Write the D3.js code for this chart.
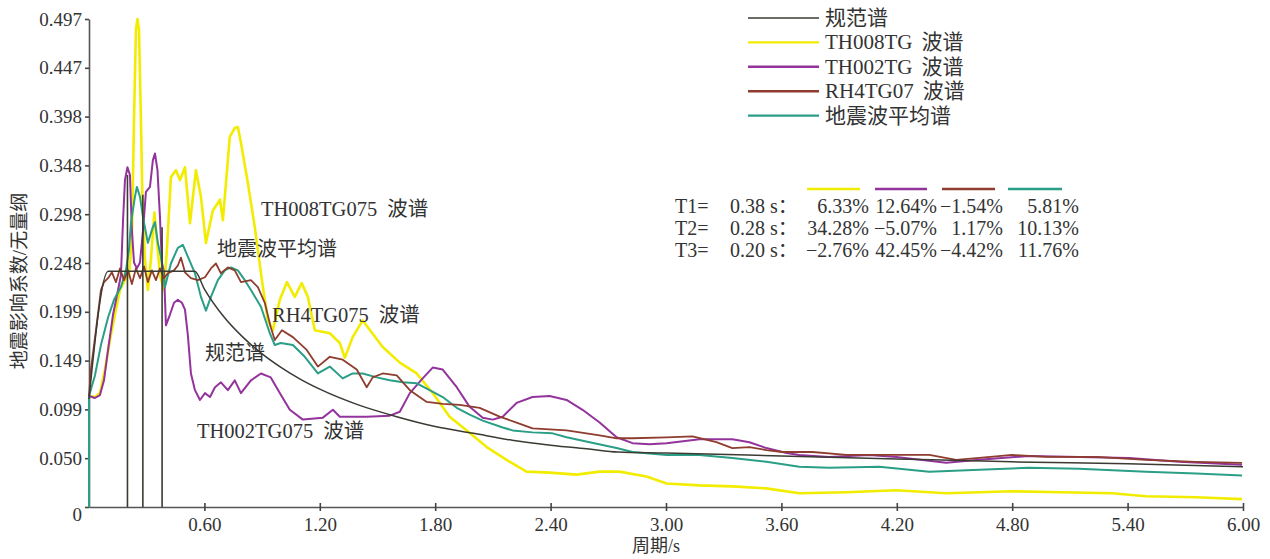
<!DOCTYPE html>
<html>
<head>
<meta charset="utf-8">
<script src="https://cdn.jsdelivr.net/npm/d3@7"></script>
<style>
  body { margin: 0; background: #fff; }
  svg { display: block; }
  text { font-family: "Liberation Serif", "Noto Sans CJK SC", serif; fill: #333; }
</style>
</head>
<body>
<svg id="chart" width="1270" height="559"></svg>
<script>
// ---- axis ticks ----
const periodTicks = [0.6, 1.2, 1.8, 2.4, 3.0, 3.6, 4.2, 4.8, 5.4, 6.0];
const coefTicks = [0, 0.0497, 0.0994, 0.1491, 0.1988, 0.2485, 0.2982, 0.3479, 0.3976, 0.4473, 0.497];
const coefTickLabels = ["0", "0.050", "0.099", "0.149", "0.199", "0.248", "0.298", "0.348", "0.398", "0.447", "0.497"];

// ---- spectra: [period (s), seismic influence coefficient] ----
const codeSpectrum = [
  [0, 0.11], [0.1, 0.24], [0.55, 0.24], [0.6, 0.222], [0.7, 0.194], [0.8, 0.173], [0.9, 0.156],
  [1.0, 0.142], [1.1, 0.13], [1.2, 0.12], [1.4, 0.104], [1.6, 0.092], [1.8, 0.082], [2.0, 0.075],
  [2.2, 0.068], [2.4, 0.063], [2.6, 0.059], [2.75, 0.056], [3.0, 0.055], [3.6, 0.052], [4.2, 0.049],
  [4.8, 0.046], [5.4, 0.044], [6.0, 0.041]
];

const th008tg = [
  [0, 0.113], [0.031, 0.112], [0.057, 0.116], [0.083, 0.14], [0.109, 0.17], [0.135, 0.196], [0.161, 0.221],
  [0.187, 0.231], [0.208, 0.236], [0.223, 0.272], [0.234, 0.394], [0.244, 0.486], [0.252, 0.497], [0.26, 0.486],
  [0.27, 0.394], [0.278, 0.313], [0.291, 0.252], [0.306, 0.221], [0.322, 0.252], [0.34, 0.3], [0.353, 0.272],
  [0.369, 0.236], [0.39, 0.221], [0.405, 0.262], [0.426, 0.336], [0.452, 0.343], [0.473, 0.333], [0.499, 0.346],
  [0.525, 0.289], [0.556, 0.343], [0.582, 0.316], [0.608, 0.269], [0.644, 0.302], [0.681, 0.313], [0.696, 0.292],
  [0.732, 0.377], [0.758, 0.386], [0.774, 0.387], [0.79, 0.371], [0.826, 0.33], [0.862, 0.285], [0.899, 0.231],
  [0.93, 0.19], [0.956, 0.18], [0.992, 0.211], [1.029, 0.229], [1.07, 0.214], [1.106, 0.228], [1.138, 0.214],
  [1.174, 0.18], [1.252, 0.177], [1.304, 0.167], [1.33, 0.152], [1.371, 0.173], [1.423, 0.19], [1.527, 0.163],
  [1.616, 0.147], [1.704, 0.136], [1.787, 0.116], [1.875, 0.092], [1.964, 0.078], [2.068, 0.061], [2.171, 0.048],
  [2.275, 0.036], [2.395, 0.035], [2.535, 0.033], [2.655, 0.036], [2.758, 0.036], [2.899, 0.031], [3.003, 0.024],
  [3.174, 0.022], [3.345, 0.021], [3.522, 0.019], [3.693, 0.014], [3.938, 0.015], [4.197, 0.017], [4.457, 0.014],
  [4.8, 0.016], [5.06, 0.015], [5.319, 0.014], [5.496, 0.011], [5.756, 0.01], [5.995, 0.008]
];

const th002tg = [
  [0, 0.113], [0.031, 0.111], [0.057, 0.114], [0.078, 0.129], [0.099, 0.16], [0.125, 0.196], [0.151, 0.221],
  [0.166, 0.236], [0.177, 0.292], [0.187, 0.333], [0.2, 0.346], [0.213, 0.338], [0.223, 0.282], [0.234, 0.249],
  [0.249, 0.243], [0.265, 0.249], [0.281, 0.282], [0.296, 0.321], [0.317, 0.326], [0.332, 0.353], [0.343, 0.36],
  [0.356, 0.343], [0.369, 0.295], [0.379, 0.249], [0.39, 0.239], [0.4, 0.185], [0.421, 0.196], [0.442, 0.208],
  [0.462, 0.211], [0.483, 0.208], [0.499, 0.201], [0.514, 0.175], [0.53, 0.136], [0.551, 0.119], [0.577, 0.109],
  [0.603, 0.116], [0.629, 0.112], [0.655, 0.122], [0.686, 0.127], [0.722, 0.119], [0.758, 0.129], [0.79, 0.116],
  [0.842, 0.129], [0.894, 0.136], [0.945, 0.132], [0.992, 0.116], [1.044, 0.099], [1.112, 0.089], [1.216, 0.091],
  [1.268, 0.099], [1.304, 0.092], [1.444, 0.092], [1.564, 0.093], [1.616, 0.097], [1.668, 0.116], [1.735, 0.131],
  [1.787, 0.142], [1.839, 0.14], [1.912, 0.122], [1.979, 0.102], [2.047, 0.091], [2.099, 0.089], [2.151, 0.092],
  [2.223, 0.106], [2.306, 0.112], [2.395, 0.113], [2.483, 0.109], [2.566, 0.099], [2.655, 0.086], [2.743, 0.071],
  [2.826, 0.065], [2.914, 0.064], [3.003, 0.065], [3.174, 0.069], [3.345, 0.069], [3.434, 0.066], [3.522, 0.06],
  [3.626, 0.055], [3.693, 0.053], [3.849, 0.051], [4.057, 0.053], [4.197, 0.051], [4.457, 0.045], [4.629, 0.048],
  [4.888, 0.052], [5.148, 0.051], [5.408, 0.05], [5.668, 0.046], [5.995, 0.043]
];

const rh4tg07 = [
  [0, 0.113], [0.01, 0.14], [0.036, 0.18], [0.062, 0.221], [0.078, 0.229], [0.099, 0.233], [0.119, 0.239],
  [0.14, 0.229], [0.161, 0.243], [0.182, 0.231], [0.203, 0.241], [0.223, 0.227], [0.244, 0.243], [0.265, 0.233],
  [0.286, 0.245], [0.306, 0.229], [0.327, 0.241], [0.348, 0.231], [0.369, 0.243], [0.39, 0.233], [0.41, 0.238],
  [0.442, 0.241], [0.462, 0.246], [0.478, 0.254], [0.499, 0.239], [0.53, 0.233], [0.566, 0.231], [0.603, 0.234],
  [0.634, 0.243], [0.66, 0.248], [0.686, 0.238], [0.722, 0.244], [0.758, 0.241], [0.79, 0.229], [0.842, 0.231],
  [0.878, 0.224], [0.914, 0.208], [0.945, 0.183], [0.966, 0.17], [1.003, 0.18], [1.06, 0.173], [1.132, 0.16],
  [1.19, 0.143], [1.252, 0.153], [1.319, 0.15], [1.392, 0.14], [1.444, 0.122], [1.475, 0.132], [1.527, 0.136],
  [1.6, 0.134], [1.668, 0.119], [1.756, 0.107], [1.839, 0.105], [1.927, 0.104], [2.031, 0.101], [2.135, 0.092],
  [2.223, 0.086], [2.306, 0.08], [2.483, 0.078], [2.655, 0.073], [2.743, 0.07], [2.826, 0.07], [3.003, 0.071],
  [3.138, 0.072], [3.262, 0.066], [3.345, 0.06], [3.434, 0.061], [3.522, 0.058], [3.605, 0.056], [3.761, 0.056],
  [3.938, 0.053], [4.197, 0.053], [4.369, 0.053], [4.509, 0.048], [4.629, 0.05], [4.8, 0.053], [4.977, 0.051],
  [5.236, 0.051], [5.496, 0.048], [5.756, 0.046], [5.995, 0.045]
];

const meanSpectrum = [
  [0, 0], [0, 0.113], [0.031, 0.134], [0.062, 0.165], [0.099, 0.193], [0.13, 0.211], [0.166, 0.224],
  [0.192, 0.241], [0.208, 0.262], [0.218, 0.289], [0.239, 0.316], [0.249, 0.326], [0.265, 0.316], [0.281, 0.295],
  [0.306, 0.269], [0.332, 0.285], [0.343, 0.29], [0.358, 0.269], [0.374, 0.255], [0.395, 0.224], [0.426, 0.248],
  [0.462, 0.264], [0.488, 0.267], [0.514, 0.255], [0.551, 0.238], [0.582, 0.214], [0.608, 0.2], [0.634, 0.214],
  [0.67, 0.231], [0.706, 0.241], [0.738, 0.244], [0.774, 0.241], [0.81, 0.231], [0.842, 0.221], [0.894, 0.204],
  [0.94, 0.177], [0.966, 0.165], [0.997, 0.167], [1.06, 0.165], [1.122, 0.153], [1.19, 0.136], [1.252, 0.143],
  [1.319, 0.131], [1.371, 0.136], [1.423, 0.136], [1.496, 0.132], [1.564, 0.129], [1.631, 0.127], [1.704, 0.126],
  [1.771, 0.119], [1.839, 0.112], [1.912, 0.101], [1.979, 0.094], [2.047, 0.088], [2.151, 0.081], [2.203, 0.078],
  [2.306, 0.076], [2.41, 0.075], [2.483, 0.071], [2.603, 0.066], [2.743, 0.06], [2.826, 0.056], [3.003, 0.053],
  [3.174, 0.053], [3.345, 0.05], [3.522, 0.046], [3.693, 0.041], [3.849, 0.04], [4.109, 0.041], [4.369, 0.036],
  [4.629, 0.038], [4.888, 0.04], [5.148, 0.039], [5.496, 0.036], [5.756, 0.034], [5.995, 0.032]
];

// ---- check periods and relative deviations ----
const checkLabels = ["T1=", "T2=", "T3="];
const checkPeriods = [0.38, 0.28, 0.20];
const checkTops = [0.285, 0.318, 0.338];
const devTH008 = ["6.33%", "34.28%", "\u22122.76%"];
const devTH002 = ["12.64%", "\u22125.07%", "42.45%"];
const devRH4 = ["\u22121.54%", "1.17%", "\u22124.42%"];
const devMean = ["5.81%", "10.13%", "11.76%"];

const legendNames = ["规范谱", "TH008TG", "TH002TG", "RH4TG07", "地震波平均谱"];
const legendSuffix = ["", "波谱", "波谱", "波谱", ""];

const colors = {
  code: "#3b3a33",
  th008: "#f2ed00",
  th002: "#93339c",
  rh4: "#8e3d2e",
  mean: "#2a9e86"
};

const svg = d3.select("#chart");
const x = d3.scaleLinear().domain([0, 6]).range([89, 1243]);
const y = d3.scaleLinear().domain([0, 0.497]).range([507, 19]);

// ---- axes ----
const xAxis = d3.axisBottom(x).tickValues(periodTicks).tickFormat(d3.format(".2f")).tickSize(4).tickPadding(7).tickSizeOuter(0);
const gx = svg.append("g").attr("transform", "translate(0,507)").call(xAxis);
gx.select(".domain").attr("stroke", "#555").attr("stroke-width", 1.6);
gx.selectAll(".tick line").attr("stroke", "#444").attr("stroke-width", 1.6).attr("y1", -4);
gx.selectAll(".tick text").attr("font-size", 19).attr("fill", "#333").style("font-family", "Liberation Serif");

const yAxis = d3.axisLeft(y).tickValues(coefTicks).tickFormat((d, i) => coefTickLabels[i]).tickSize(4).tickPadding(3).tickSizeOuter(0);
const gy = svg.append("g").attr("transform", "translate(89,0)").call(yAxis);
gy.select(".domain").attr("stroke", "#555").attr("stroke-width", 1.6);
gy.selectAll(".tick line").attr("stroke", "#444").attr("stroke-width", 1.6);
gy.selectAll(".tick text").attr("font-size", 19).attr("fill", "#333").style("font-family", "Liberation Serif");
gy.selectAll(".tick text").filter((d, i) => i === 0).attr("dy", "0.72em");

// ---- axis titles ----
svg.append("text").attr("x", 656).attr("y", 552).attr("text-anchor", "middle").attr("font-size", 18).text("周期/s");
svg.append("text").attr("transform", "translate(26,281) rotate(-90)").attr("text-anchor", "middle")
  .attr("font-size", 19).text("地震影响系数/无量纲");

// ---- spectra ----
const line = d3.line().x(d => x(d[0])).y(d => y(d[1])).curve(d3.curveLinear);
const smooth = d3.line().x(d => x(d[0])).y(d => y(d[1])).curve(d3.curveMonotoneX);

svg.append("path").datum(th008tg).attr("d", line).attr("fill", "none").attr("stroke", colors.th008).attr("stroke-width", 2.6).attr("stroke-linejoin", "round");
svg.append("path").datum(th002tg).attr("d", line).attr("fill", "none").attr("stroke", colors.th002).attr("stroke-width", 2).attr("stroke-linejoin", "round");
svg.append("path").datum(meanSpectrum).attr("d", line).attr("fill", "none").attr("stroke", colors.mean).attr("stroke-width", 2).attr("stroke-linejoin", "round");
svg.append("path").datum(rh4tg07).attr("d", line).attr("fill", "none").attr("stroke", colors.rh4).attr("stroke-width", 1.8).attr("stroke-linejoin", "round");
svg.append("path").datum(codeSpectrum).attr("d", smooth).attr("fill", "none").attr("stroke", colors.code).attr("stroke-width", 1.5);

// ---- check period markers ----
svg.append("g").selectAll("line").data(checkPeriods).join("line")
  .attr("x1", d => x(d)).attr("x2", d => x(d))
  .attr("y1", y(0)).attr("y2", (d, i) => y(checkTops[i]))
  .attr("stroke", "#3b3a33").attr("stroke-width", 1.6);

// ---- in-plot labels ----
function label(tx, ty, main, suffix, size) {
  const t = svg.append("text").attr("x", tx).attr("y", ty).attr("font-size", size);
  t.append("tspan").text(main);
  if (suffix) t.append("tspan").attr("dx", 10).text(suffix);
}
label(261, 216, "TH008TG075", "波谱", 20.5);
label(217, 256, "地震波平均谱", "", 20);
label(272, 322, "RH4TG075", "波谱", 20.5);
label(205, 360, "规范谱", "", 20);
label(197, 438, "TH002TG075", "波谱", 20.5);

// ---- legend ----
const legendColors = [colors.code, colors.th008, colors.th002, colors.rh4, colors.mean];
const lg = svg.append("g").selectAll("g").data(legendNames).join("g")
  .attr("transform", (d, i) => `translate(0,${18 + i * 24.4})`);
lg.append("line").attr("x1", 748).attr("x2", 819).attr("y1", 0).attr("y2", 0)
  .attr("stroke", (d, i) => legendColors[i]).attr("stroke-width", (d, i) => i === 0 ? 1.6 : 2.4);
lg.each(function (d, i) {
  const t = d3.select(this).append("text").attr("x", 825).attr("y", 7).attr("font-size", 21);
  t.append("tspan").text(d);
  if (legendSuffix[i]) t.append("tspan").attr("dx", 9).text(legendSuffix[i]);
});

// ---- deviation table ----
const colRight = [869, 937, 1003, 1079];
const colSpan = [[807, 860], [875, 927], [942, 995], [1008, 1062]];
const colColors = [colors.th008, colors.th002, colors.rh4, colors.mean];
svg.append("g").selectAll("line").data(colSpan).join("line")
  .attr("x1", d => d[0]).attr("x2", d => d[1]).attr("y1", 189).attr("y2", 189)
  .attr("stroke", (d, i) => colColors[i]).attr("stroke-width", 2.6);

const rowY = [213, 235, 257];
const columns = [devTH008, devTH002, devRH4, devMean];
checkLabels.forEach((lab, r) => {
  svg.append("text").attr("x", 675).attr("y", rowY[r]).attr("font-size", 20).text(lab);
  svg.append("text").attr("x", 730).attr("y", rowY[r]).attr("font-size", 20).text(checkPeriods[r].toFixed(2) + " s\uff1a");
  columns.forEach((col, c) => {
    svg.append("text").attr("x", colRight[c]).attr("y", rowY[r]).attr("text-anchor", "end").attr("font-size", 20).text(col[r]);
  });
});
</script>
</body>
</html>
